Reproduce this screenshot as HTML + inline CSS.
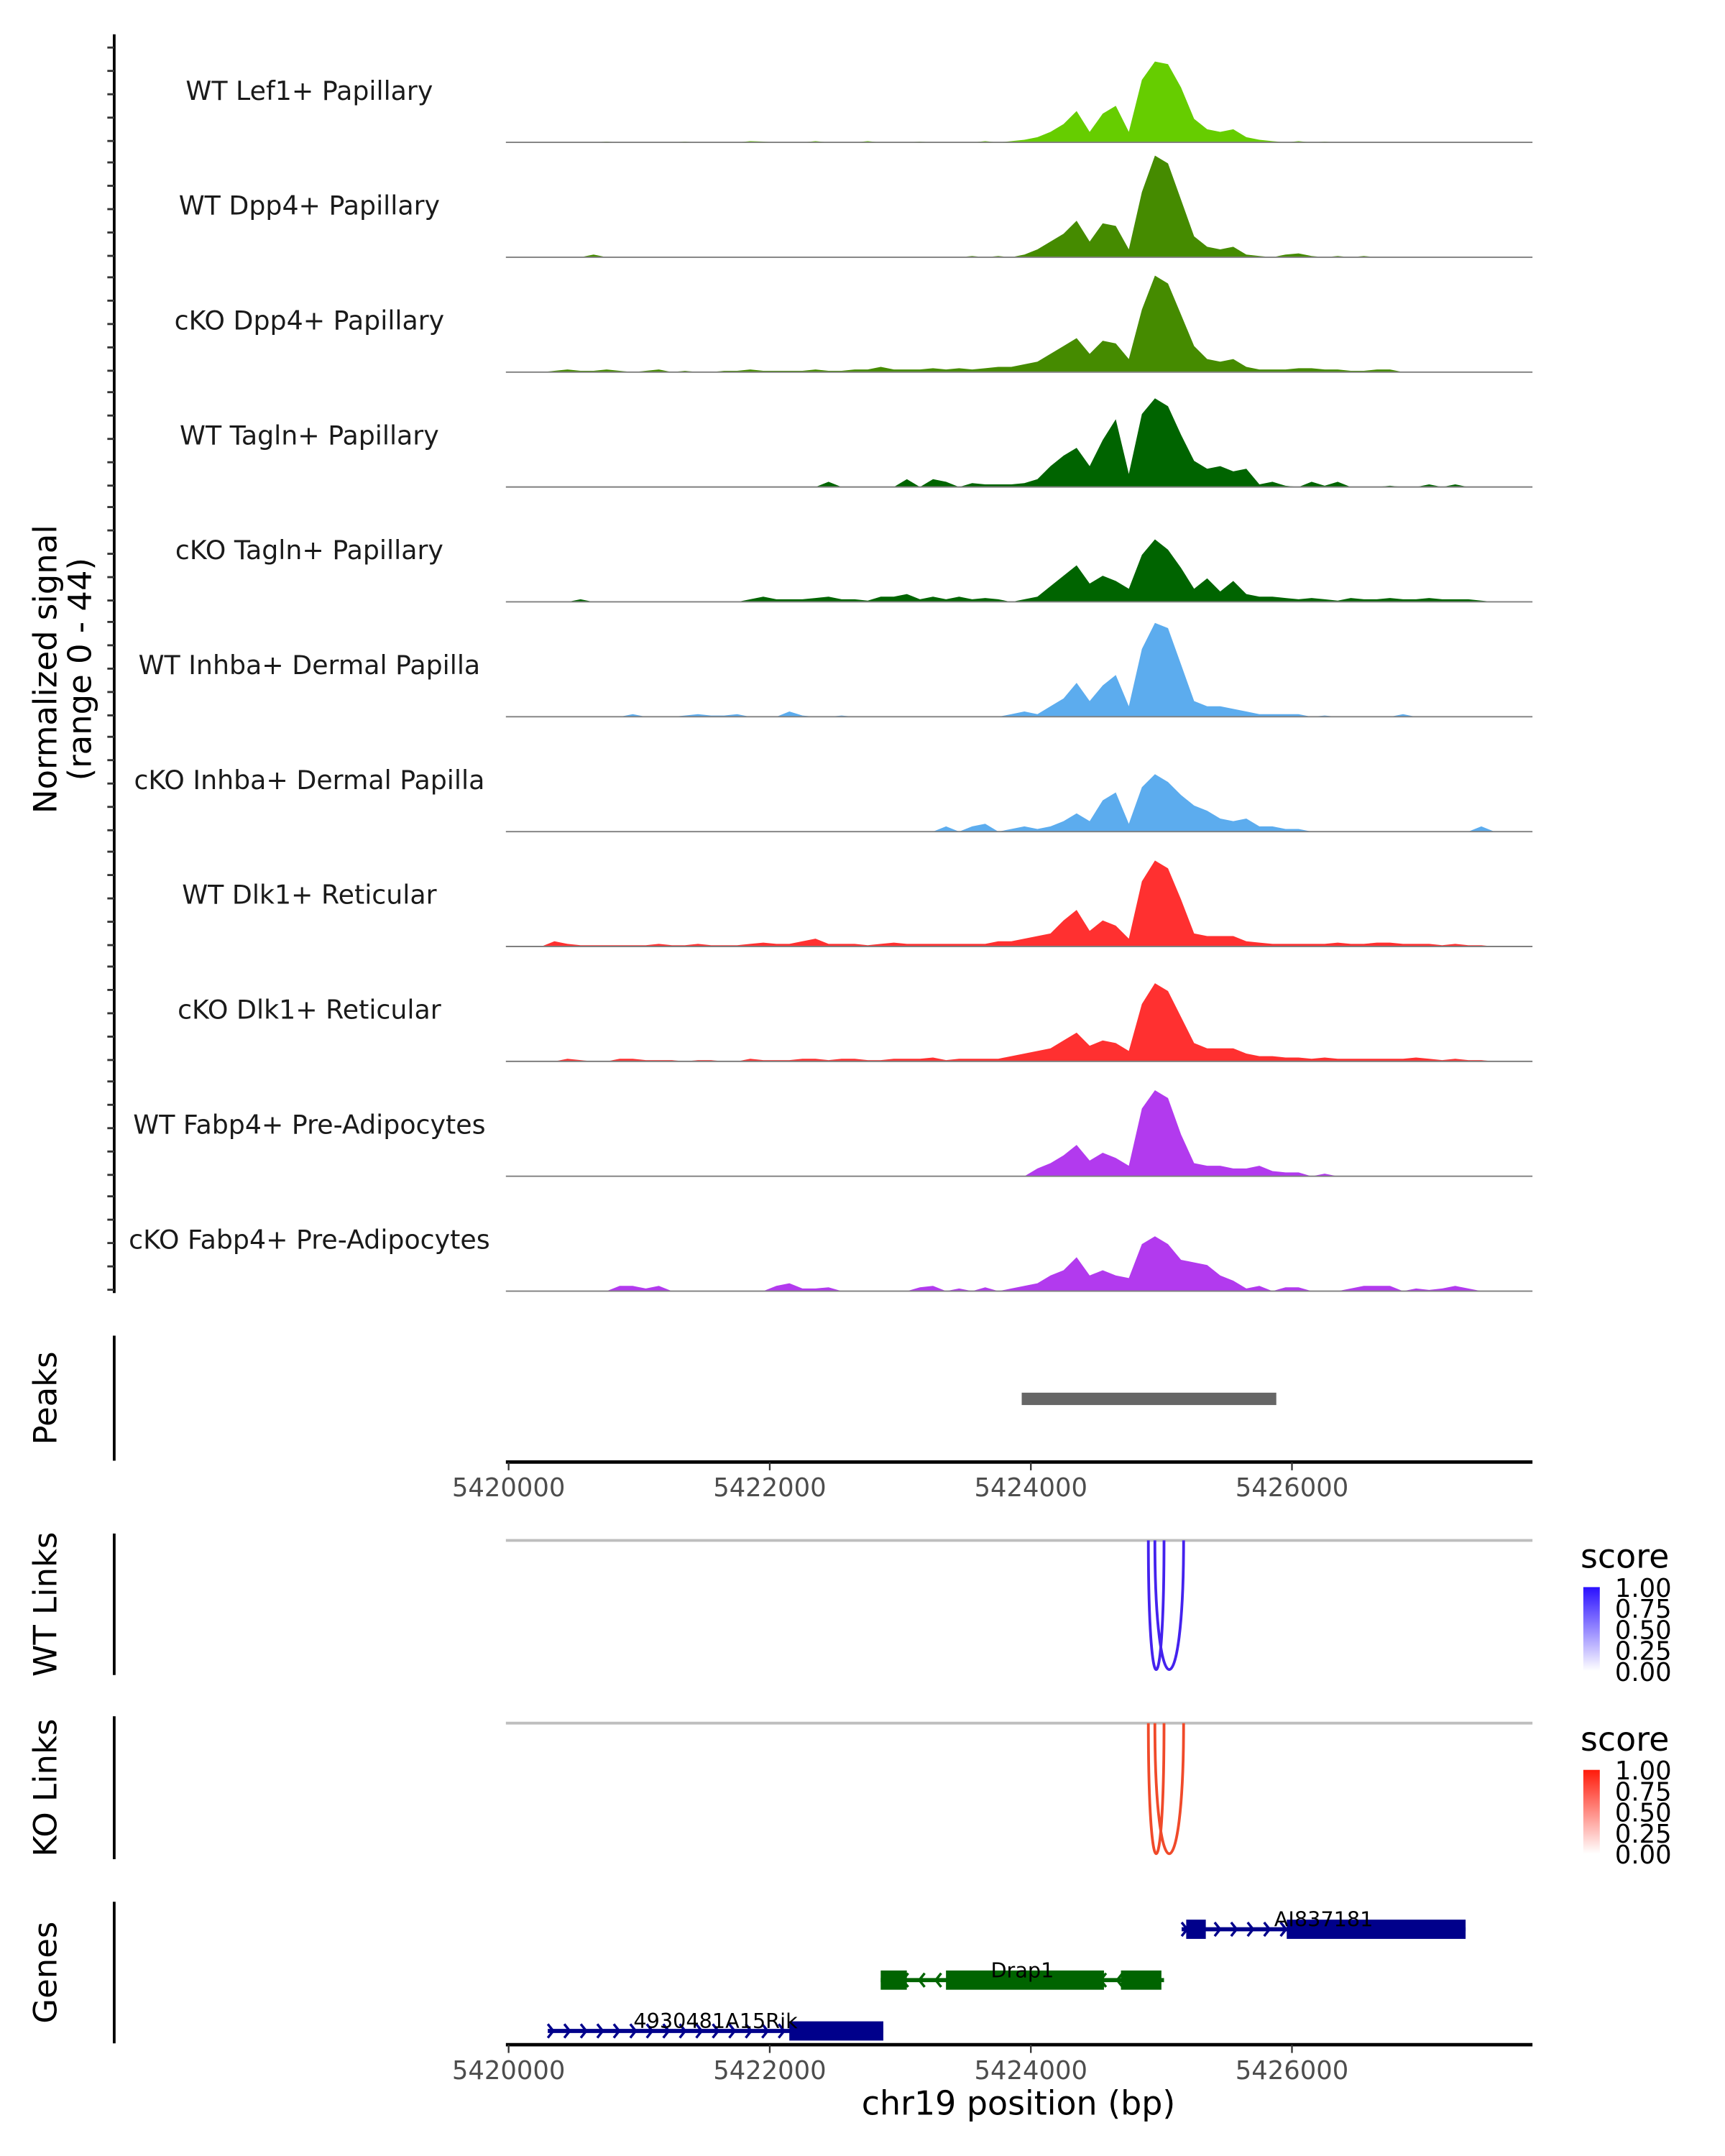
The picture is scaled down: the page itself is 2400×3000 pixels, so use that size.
<!DOCTYPE html>
<html><head><meta charset="utf-8"><style>
html,body{margin:0;padding:0;background:#fff;}
svg{display:block;}
text{font-family:"DejaVu Sans","Liberation Sans",sans-serif;}
</style></head><body>
<svg id="chart" width="2400" height="3000" viewBox="0 0 1255 1569" xmlns="http://www.w3.org/2000/svg">
<rect x="0" y="0" width="1255" height="1569" fill="#fff"/>
</svg>
<script>
const trackNames = ["WT Lef1+ Papillary","WT Dpp4+ Papillary","cKO Dpp4+ Papillary","WT Tagln+ Papillary","cKO Tagln+ Papillary","WT Inhba+ Dermal Papilla","cKO Inhba+ Dermal Papilla","WT Dlk1+ Reticular","cKO Dlk1+ Reticular","WT Fabp4+ Pre-Adipocytes","cKO Fabp4+ Pre-Adipocytes"];
const trackColors = ["#66CD00","#458B00","#458B00","#006400","#006400","#5CACEE","#5CACEE","#FF3030","#FF3030","#B23AEE","#B23AEE"];
const binStart = 5420000;
const binSize = 100;
const sigLef1WT = [0,0,0,0,0,0,0,0.3,0,0, 0,0,0,0.3,0,0,0,0,0.5,0.3, 0,0,0,0.5,0,0,0,0.5,0,0, 0,0.3,0,0,0,0,0.5,0,0.5,1, 2,4,7,12,4,11,14,4,24,31, 30,21,9,5,4,5,2,1,0.5,0, 0.5,0,0.3,0,0,0,0,0,0,0, 0,0,0,0,0,0];
const sigDpp4WT = [0,0,0,0,0,0,1,0,0,0, 0,0,0,0,0,0,0,0,0,0, 0,0,0,0,0,0,0,0,0,0, 0,0,0,0,0,0.5,0,0.5,0,1, 3,6,9,14,6,13,12,3,25,39, 36,22,8,4,3,4,1,0.5,0,1, 1.5,0.5,0,0.5,0,0.5,0,0,0,0, 0,0,0,0,0,0];
const sigDpp4KO = [0,0,0,0.5,1,0.5,0.5,1,0.5,0, 0.5,1,0,0.5,0,0,0.5,0.5,1,0.5, 0.5,0.5,0.5,1,0.5,0.5,1,1,2,1, 1,1,1.5,1,1.5,1,1.5,2,2,3, 4,7,10,13,7,12,11,5,24,37, 34,22,10,5,4,5,2,1,1,1, 1.5,1.5,1,1,0.5,0.5,1,1,0,0, 0,0,0,0,0,0];
const sigTaglnWT = [0,0,0,0,0,0,0,0,0,0, 0,0,0,0,0,0,0,0,0,0, 0,0,0,0,2,0,0,0,0,0, 3,0,3,2,0,1.5,1,1,1,1.5, 3,8,12,15,8,18,26,5,28,34, 31,20,10,7,8,6,7,1,2,0.5, 0,2,0.5,2,0,0,0,0.5,0,0, 1,0,1,0,0,0];
const sigTaglnKO = [0,0,0,0,0,1,0,0,0,0, 0,0,0,0,0,0,0,0,1,2, 1,1,1,1.5,2,1,1,0.5,2,2, 3,1,2,1,2,1,1.5,1,0,1, 2,6,10,14,7,10,8,5,18,24, 20,13,5,9,4,8,3,2,2,1.5, 1,1.5,1,0.5,1.5,1,1,1.5,1,1, 1.5,1,1,1,0.5,0];
const sigInhbaWT = [0,0,0,0,0,0,0,0,0,1, 0,0,0,0.5,1,0.5,0.5,1,0,0, 0,2,0.5,0,0,0.5,0,0,0,0, 0,0,0,0,0,0,0,0,1,2, 1,4,7,13,6,12,16,4,26,36, 34,20,6,4,4,3,2,1,1,1, 1,0,0.5,0,0,0,0,0,1,0, 0,0,0,0,0,0];
const sigInhbaKO = [0,0,0,0,0,0,0,0,0,0, 0,0,0,0,0,0,0,0,0,0, 0,0,0,0,0,0,0,0,0,0, 0,0,0,2,0,2,3,0,1,2, 1,2,4,7,4,12,15,3,17,22, 19,14,10,8,5,4,5,2,2,1, 1,0,0,0,0,0,0,0,0,0, 0,0,0,0,2,0];
const sigDlk1WT = [0,0,0,2,1,0.5,0.5,0.5,0.5,0.5, 0.5,1,0.5,0.5,1,0.5,0.5,0.5,1,1.5, 1,1,2,3,1,1,1,0.5,1,1.5, 1,1,1,1,1,1,1,2,2,3, 4,5,10,14,6,10,8,3,25,33, 30,18,5,4,4,4,2,1.5,1,1, 1,1,1,1.5,1,1,1.5,1.5,1,1, 1,0.5,1,0.5,0.5,0];
const sigDlk1KO = [0,0,0,0,1,0.5,0,0,1,1, 0.5,0.5,0.5,0,0.5,0.5,0,0,1,0.5, 0.5,0.5,1,1,0.5,1,1,0.5,0.5,1, 1,1,1.5,0.5,1,1,1,1,2,3, 4,5,8,11,6,8,7,4,22,30, 27,17,7,5,5,5,3,2,2,1.5, 1.5,1,1.5,1,1,1,1,1,1,1.5, 1,0.5,1,0.5,0.5,0];
const sigFabp4WT = [0,0,0,0,0,0,0,0,0,0, 0,0,0,0,0,0,0,0,0,0, 0,0,0,0,0,0,0,0,0,0, 0,0,0,0,0,0,0,0,0,0, 3,5,8,12,6,9,7,4,26,33, 30,16,5,4,4,3,3,4,2,1.5, 1.5,0,1,0,0,0,0,0,0,0, 0,0,0,0,0,0];
const sigFabp4KO = [0,0,0,0,0,0,0,0,2,2, 1,2,0,0,0,0,0,0,0,0, 2,3,1,1,1.5,0,0,0,0,0, 0,1.5,2,0,1,0,1.5,0,1,2, 3,6,8,13,6,8,6,5,18,21, 18,12,11,10,6,4,1,2,0,1.5, 1.5,0,0,0,1,2,2,2,0,1, 0.5,1,2,1,0,0];
const signals = [sigLef1WT,sigDpp4WT,sigDpp4KO,sigTaglnWT,sigTaglnKO,sigInhbaWT,sigInhbaKO,sigDlk1WT,sigDlk1KO,sigFabp4WT,sigFabp4KO];
const xTicks = [5420000,5422000,5424000,5426000];
const peakStarts = [5423930];
const peakEnds = [5425880];
const wtLinkStarts = [5424900,5424950];
const wtLinkEnds = [5425020,5425170];
const koLinkStarts = [5424900,5424950];
const koLinkEnds = [5425020,5425170];
const genesName = ["AI837181","Drap1","4930481A15Rik"];
const genesStart = [5425155,5422850,5420300];
const genesEnd = [5427330,5425020,5422870];
const genesStrand = [1,-1,1];
const genesExonStart = [[5425190,5425960],[5422850,5423350,5424690],[5422150]];
const genesExonEnd = [[5425340,5427330],[5423050,5424560,5425000],[5422870]];
const genesColor = ["#00008B","#006400","#00008B"];
const legendTicks = ["1.00","0.75","0.50","0.25","0.00"];

const svg = document.getElementById('chart');
const NS = 'http://www.w3.org/2000/svg';
function mk(tag, attrs, parent){const e=document.createElementNS(NS,tag);for(const k in attrs)e.setAttribute(k,attrs[k]);(parent||svg).appendChild(e);return e;}
const X0=368, X1=1115;
function xs(bp){return 370 + (bp-5420000)*0.095;}
const trackTop=20, trackH=83.6, pxPerUnit=83.5/44;
function base(i){return trackTop + trackH*(i+1);}

const ax = mk('line',{x1:83,y1:25,x2:83,y2:941,stroke:'#000','stroke-width':2});


for(let i=0;i<11;i++){for(const d of [1,18,35,52,69]){const t=mk('line',{x1:78,x2:83,y1:base(i)-d,y2:base(i)-d,stroke:'#333','stroke-width':1.5});

}}
const yt = mk('text',{x:0,y:0,'font-size':23.5,'text-anchor':'middle',transform:'translate(41,487) rotate(-90)'});


mk('tspan',{x:0,dy:0},yt).textContent='Normalized signal';
mk('tspan',{x:0,dy:25},yt).textContent='(range 0 - 44)';

for(let t=0;t<11;t++){
  const b=base(t);
  const g=mk('g',{});
  
  
  let pts=[[xs(binStart),b]];
  signals[t].forEach((v,i)=>{const xc=xs(binStart+(i+0.5)*binSize);pts.push([xc,b-v*pxPerUnit]);});
  pts.push([xs(binStart+signals[t].length*binSize),b]);
  const p=mk('polygon',{points:pts.map(p=>p[0].toFixed(1)+','+p[1].toFixed(1)).join(' '),fill:trackColors[t]},g);
  
  
  const bl=mk('line',{x1:X0,x2:X1,y1:b,y2:b,stroke:'#7f7f7f','stroke-width':1},g);
  
  
  const lb=mk('text',{x:225,y:b-31,'font-size':19,'text-anchor':'middle',fill:'#1a1a1a'},g);
  
  
  lb.textContent=trackNames[t];
}

function panelAxis(y1,y2,label,name){
  const l=mk('line',{x1:83,x2:83,y1:y1,y2:y2,stroke:'#000','stroke-width':2});
  
  
  const t=mk('text',{x:0,y:0,'font-size':23.5,'text-anchor':'middle',transform:`translate(41,${(y1+y2)/2}) rotate(-90)`});
  
  
  t.textContent=label;
}
function xAxis(y,name){
  const l=mk('line',{x1:X0,x2:X1,y1:y,y2:y,stroke:'#000','stroke-width':2.5});
  
  
  xTicks.forEach(v=>{const tk=mk('line',{x1:xs(v),x2:xs(v),y1:y,y2:y+6,stroke:'#333','stroke-width':1.2});
  
  
  const tl=mk('text',{x:xs(v),y:y+25,'font-size':18.5,'text-anchor':'middle',fill:'#4d4d4d'});
  
  
  tl.textContent=v;});
}
panelAxis(972,1063,'Peaks','peaks');
peakStarts.forEach((s,i)=>{const r=mk('rect',{x:xs(s),y:1013.5,width:xs(peakEnds[i])-xs(s),height:9,fill:'#666'});

});
xAxis(1064,'peaks-x-axis');

function links(y0,y1,starts,ends,color,name,grad){
  panelAxis(y0-5,y1+4,name==='wt'?'WT Links':'KO Links',name+'-links');
  const gl=mk('line',{x1:X0,x2:X1,y1:y0,y2:y0,stroke:'#bebebe','stroke-width':2});
  
  
  starts.forEach((s,i)=>{const a=xs(s), b=xs(ends[i]);const depth=(y1-y0)*4/3;
    const p=mk('path',{d:`M${a},${y0} C${a},${y0+depth} ${b},${y0+depth} ${b},${y0}`,fill:'none',stroke:color,'stroke-width':2});
    
    });
  const ly=y0+11;
  const st=mk('text',{x:1150,y:ly+9,'font-size':24});
  
  
  st.textContent='score';
  const defs=mk('defs',{});
  const lg=mk('linearGradient',{id:'g'+name,x1:0,y1:1,x2:0,y2:0},defs);
  mk('stop',{offset:0,'stop-color':'#ffffff'},lg);mk('stop',{offset:1,'stop-color':grad},lg);
  const cb=mk('rect',{x:1152,y:ly+23,width:12,height:61,fill:`url(#g${name})`});
  
  
  legendTicks.forEach((t,i)=>{const tx=mk('text',{x:1175,y:ly+30+i*15.3,'font-size':18.5});
  
  
  tx.textContent=t;});
}
links(1121,1215,wtLinkStarts,wtLinkEnds,'#4422EE','wt','#2a10ff');
links(1254,1349,koLinkStarts,koLinkEnds,'#F04A2A','ko','#ff1a0a');

panelAxis(1384,1487,'Genes','genes');
const rowY=[1404,1441,1478];
genesName.forEach((n,i)=>{
  const g=mk('g',{});
  
  
  const y=rowY[i], c=genesColor[i];
  const a=xs(genesStart[i]), b=xs(genesEnd[i]);
  mk('line',{x1:a,x2:b,y1:y,y2:y,stroke:c,'stroke-width':3},g);
  for(let x=a+4;x<b-4;x+=12){const d=genesStrand[i]*4;
    mk('polyline',{points:`${x-d},${y-5} ${x},${y} ${x-d},${y+5}`,fill:'none',stroke:c,'stroke-width':1.8},g);}
  genesExonStart[i].forEach((s,k)=>{mk('rect',{x:xs(s),y:y-7,width:xs(genesExonEnd[i][k])-xs(s),height:14,fill:c},g);});
  const t=mk('text',{x:(a+b)/2,y:y-2,'font-size':15,'text-anchor':'middle'},g);
  
  
  t.textContent=n;
});
xAxis(1488,'genes-x-axis');
const xt=mk('text',{x:741,y:1539,'font-size':24,'text-anchor':'middle'});


xt.textContent='chr19 position (bp)';
</script>
</body></html>
